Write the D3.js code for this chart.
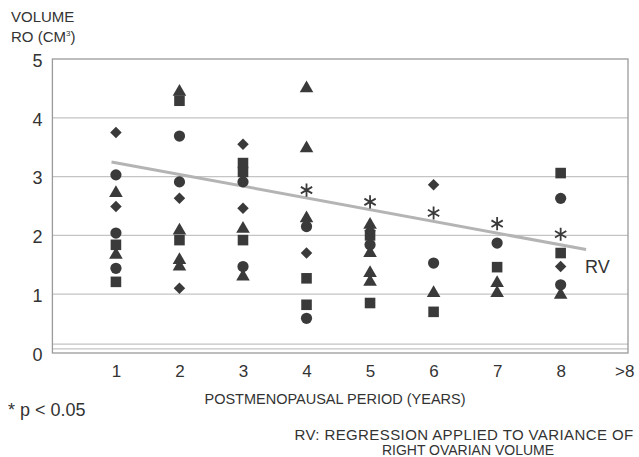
<!DOCTYPE html>
<html><head><meta charset="utf-8">
<script src="https://cdn.jsdelivr.net/npm/d3@7"></script>
<style>
html,body{margin:0;padding:0;background:#fff;}
text{font-family:"Liberation Sans",Arial,Helvetica,sans-serif;fill:#333;}
</style></head>
<body>
<svg id="c" width="639" height="457"></svg>
<script>
// ---- data (year, volume) ----
const circles   = [[1,3.03],[1,2.04],[1,1.44],[2,3.69],[2,2.91],[3,2.91],[3,1.47],[4,2.15],[4,0.59],[5,1.84],[6,1.53],[7,1.87],[8,2.63],[8,1.16]];
const squares   = [[1,1.84],[1,1.21],[2,4.29],[2,1.92],[3,3.23],[3,3.08],[3,1.92],[4,1.27],[4,0.82],[5,2.0],[5,0.85],[6,0.70],[7,1.46],[8,3.06],[8,1.70]];
const triangles = [[1,2.72],[1,1.67],[2,4.44],[2,2.08],[2,1.58],[2,1.47],[3,2.11],[3,1.30],[4,4.50],[4,3.48],[4,2.29],[5,2.18],[5,1.70],[5,1.36],[5,1.21],[6,1.02],[7,1.19],[7,1.02],[8,0.99]];
const diamonds  = [[1,3.75],[1,2.49],[2,2.63],[2,1.10],[3,3.55],[3,2.46],[4,1.70],[5,2.08],[6,2.86],[8,1.47]];
const stars     = [[4,2.77],[5,2.57],[6,2.38],[7,2.20],[8,2.02]];
const regression = [[0.93,3.25],[8.40,1.76]];
const xTicks = [1,2,3,4,5,6,7,8,9];
const xTickLabels = ["1","2","3","4","5","6","7","8",">8"];
const yTicks = [0,1,2,3,4,5];

const svg = d3.select("#c");
const x = d3.scaleLinear().domain([0, 9.06]).range([52.4, 628]);
const y = d3.scaleLinear().domain([0, 5]).range([353, 59]);

// grid lines
const grid = svg.append("g");
grid.selectAll("line.g").data([1,2,3,4,0.07,0.15]).enter().append("line")
  .attr("x1", x(0)).attr("x2", x(9.06))
  .attr("y1", d => y(d)).attr("y2", d => y(d))
  .attr("stroke", "#c4c4c4").attr("stroke-width", 1.2);
// frame
svg.append("rect").attr("x", x(0)).attr("y", y(5))
  .attr("width", x(9.06) - x(0)).attr("height", y(0) - y(5))
  .attr("fill", "none").attr("stroke", "#9a9a9a").attr("stroke-width", 1.3);

// y axis labels
const yAxis = d3.axisLeft(y).tickValues(yTicks).tickSize(0).tickPadding(10).tickFormat(d3.format("d"));
const ya = svg.append("g").attr("transform", `translate(${x(0)},0)`).call(yAxis);
ya.select(".domain").remove();
ya.selectAll("text").style("font-size", "18px").attr("fill", "#333").attr("dy", "0.4em");

// x axis labels
const xAxis = d3.axisBottom(x).tickValues(xTicks).tickSize(0).tickPadding(12)
  .tickFormat((d, i) => xTickLabels[i]);
const xa = svg.append("g").attr("transform", `translate(0,${y(0)})`).call(xAxis);
xa.select(".domain").remove();
xa.selectAll("text").style("font-size", "17px").attr("fill", "#333");

// regression line
svg.append("path").datum(regression)
  .attr("d", d3.line().x(d => x(d[0])).y(d => y(d[1])))
  .attr("stroke", "#b4b4b4").attr("stroke-width", 3).attr("fill", "none");

const mk = "#3a3a3a";
const g = svg.append("g");
g.selectAll("circle.c").data(circles).enter().append("circle")
  .attr("cx", d => x(d[0])).attr("cy", d => y(d[1])).attr("r", 5.6).attr("fill", mk);
g.selectAll("path.s").data(squares).enter().append("path")
  .attr("transform", d => `translate(${x(d[0])},${y(d[1])})`)
  .attr("d", d3.symbol(d3.symbolSquare, 112)).attr("fill", mk);
g.selectAll("path.t").data(triangles).enter().append("path")
  .attr("transform", d => `translate(${x(d[0])},${y(d[1])})`)
  .attr("d", d3.symbol(d3.symbolTriangle, 80)).attr("fill", mk);
g.selectAll("path.d").data(diamonds).enter().append("path")
  .attr("transform", d => `translate(${x(d[0])},${y(d[1])}) rotate(45)`)
  .attr("d", d3.symbol(d3.symbolSquare, 66)).attr("fill", mk);
g.selectAll("path.a").data(stars).enter().append("path")
  .attr("transform", d => `translate(${x(d[0])},${y(d[1])})`)
  .attr("d", d3.symbol(d3.symbolAsterisk, 120)).attr("fill", "none")
  .attr("stroke", mk).attr("stroke-width", 1.8);

// texts
svg.append("text").attr("x", 11).attr("y", 22).style("font-size", "15px").text("VOLUME");
const t2 = svg.append("text").attr("x", 11).attr("y", 42).style("font-size", "15px");
t2.append("tspan").text("RO (CM");
t2.append("tspan").attr("dy", -6).style("font-size", "8px").text("3");
t2.append("tspan").attr("dy", 6).text(")");

svg.append("text").attr("x", 585).attr("y", 273).style("font-size", "18px").text("RV");

svg.append("text").attr("x", 335).attr("y", 404).attr("text-anchor", "middle")
  .style("font-size", "14.5px").text("POSTMENOPAUSAL PERIOD (YEARS)");
svg.append("text").attr("x", 8).attr("y", 416).style("font-size", "18px").text("* p < 0.05");
svg.append("text").attr("x", 464).attr("y", 440).attr("text-anchor", "middle")
  .style("font-size", "15px").style("letter-spacing", "0.4px").text("RV: REGRESSION APPLIED TO VARIANCE OF");
svg.append("text").attr("x", 468).attr("y", 455).attr("text-anchor", "middle")
  .style("font-size", "14px").text("RIGHT OVARIAN VOLUME");
</script>
</body></html>
